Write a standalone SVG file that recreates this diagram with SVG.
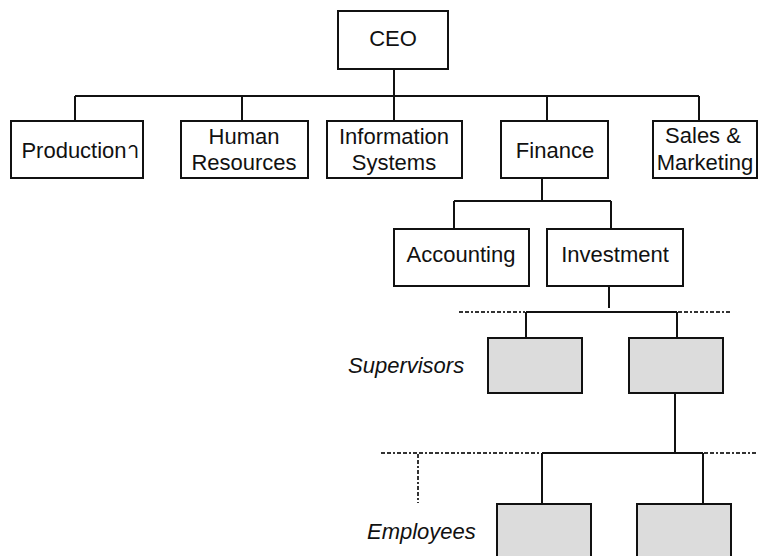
<svg xmlns="http://www.w3.org/2000/svg" width="758" height="556" viewBox="0 0 758 556">
<style>
.box{fill:#fff;stroke:#111;stroke-width:2}
.sh{fill:#dcdcdc;stroke:#111;stroke-width:2}
.t{font-family:"Liberation Sans",Arial,sans-serif;font-size:22px;fill:#111;text-anchor:middle}
.it{font-family:"Liberation Sans",Arial,sans-serif;font-size:22px;fill:#111;font-style:italic}
.ln{stroke:#111;stroke-width:2;fill:none}
.dl{stroke:#333;stroke-width:2;fill:none;stroke-dasharray:4 2 4 2 2 2}
</style>
<rect width="758" height="556" fill="#fff"/>
<g id="connectors">
<path class="ln" d="M394 69V96M75 96H699M75 96V121M242 96V121M394 96V121M547 96V121M699 96V121"/>
<path class="ln" d="M542 178V201M454 201H611M454 201V229M611 201V229"/>
<path class="ln" d="M609 286V308M526 312H677M526 312V338M677 312V338"/>
<path class="ln" d="M675 393V453M542 453H703M542 453V504M703 453V504"/>
<path class="dl" d="M459 312H525M678 312H730M381 453H541M704 453H758M418 454V503"/>
</g>
<g id="ceo"><rect class="box" x="338" y="11" width="110" height="58"/><text class="t" x="393" y="46">CEO</text></g>
<g id="production"><rect class="box" x="11" y="121" width="132" height="57"/><text class="t" x="80" y="158">Productionา</text></g>
<g id="hr"><rect class="box" x="181" y="121" width="127" height="57"/><text class="t" x="244" y="144">Human</text><text class="t" x="244" y="170">Resources</text></g>
<g id="is"><rect class="box" x="327" y="121" width="135" height="57"/><text class="t" x="394" y="144">Information</text><text class="t" x="394" y="170">Systems</text></g>
<g id="finance"><rect class="box" x="501" y="121" width="107" height="57"/><text class="t" x="555" y="158">Finance</text></g>
<g id="sales"><rect class="box" x="653" y="121" width="104" height="57"/><text class="t" x="703" y="143">Sales &amp;</text><text class="t" x="705" y="170">Marketing</text></g>
<g id="accounting"><rect class="box" x="394" y="229" width="135" height="57"/><text class="t" x="461" y="262">Accounting</text></g>
<g id="investment"><rect class="box" x="547" y="229" width="136" height="57"/><text class="t" x="615" y="262">Investment</text></g>
<g id="sup1"><rect class="sh" x="488" y="338" width="94" height="55"/></g>
<g id="sup2"><rect class="sh" x="629" y="338" width="94" height="55"/></g>
<g id="emp1"><rect class="sh" x="497" y="504" width="94" height="60"/></g>
<g id="emp2"><rect class="sh" x="637" y="504" width="94" height="60"/></g>
<text class="it" x="348" y="373">Supervisors</text>
<text class="it" x="367" y="539">Employees</text>
</svg>
